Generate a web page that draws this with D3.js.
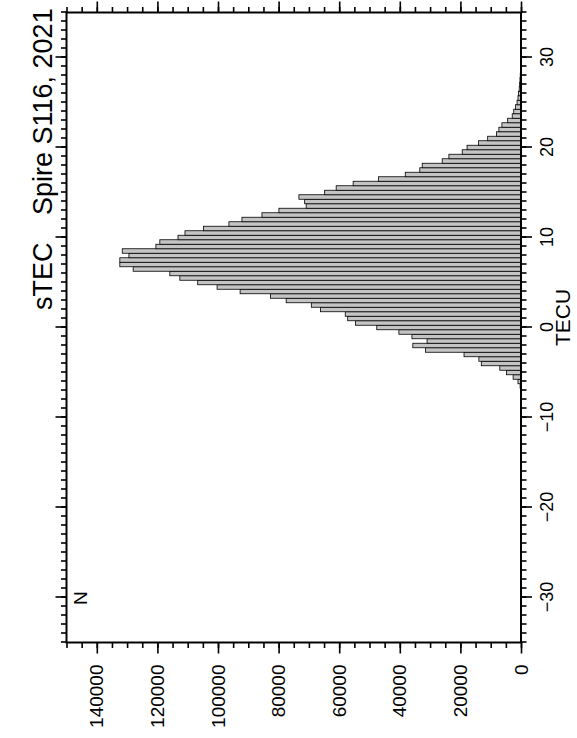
<!DOCTYPE html>
<html>
<head>
<meta charset="utf-8">
<script src="https://cdn.jsdelivr.net/npm/d3@7"></script>
<style>
body { margin: 0; background: #fff; }
text { font-family: "Liberation Sans", Arial, Helvetica, sans-serif; fill: #000; }
</style>
</head>
<body>
<div id="chart"></div>
<script>
// histogram of sTEC, 0.5 TECU bins (bin centres)
var binCenters = [-7, -6.5, -6, -5.5, -5, -4.5, -4, -3.5, -3, -2.5, -2, -1.5, -1, -0.5,
  0, 0.5, 1, 1.5, 2, 2.5, 3, 3.5, 4, 4.5, 5, 5.5, 6, 6.5, 7, 7.5, 8, 8.5, 9, 9.5,
  10, 10.5, 11, 11.5, 12, 12.5, 13, 13.5, 14, 14.5, 15, 15.5, 16, 16.5, 17, 17.5,
  18, 18.5, 19, 19.5, 20, 20.5, 21, 21.5, 22, 22.5, 23, 23.5, 24, 24.5, 25, 25.5,
  26, 26.5, 27, 27.5, 28, 28.5, 29, 29.5];
var binCounts = [100, 300, 1000, 2600, 4800, 7000, 13100, 13900, 18800, 31500, 35700, 31000, 36000, 40300,
  47600, 54600, 57200, 58000, 66200, 69200, 77500, 82700, 92700, 100300, 106700, 112600, 115900, 128000,
  132400, 132400, 129400, 131600, 120500, 119200,
  113200, 110900, 104800, 96400, 92100, 85500, 79900, 70900, 71400, 73300, 64800, 61000, 55400, 47000, 38200, 33400,
  32600, 26000, 23800, 19400, 17800, 14000, 11000, 8100, 7300, 6300, 4400, 2900, 2400, 1800, 1300, 1000,
  800, 600, 450, 350, 250, 150, 100, 50];

var tecuTicks = [-30, -20, -10, 0, 10, 20, 30];
var countTicks = [0, 20000, 40000, 60000, 80000, 100000, 120000, 140000];

var titleLeft = "sTEC";
var titleRight = "Spire S116, 2021";
var xLabel = "TECU";
var yLabel = "N";

// the plot is drawn in landscape and turned 90 degrees
var W = 630, H = 454.5;
var svg = d3.select("#chart")
  .append("svg")
    .attr("width", 577)
    .attr("height", 738);

var g = svg.append("g")
  .attr("transform", "translate(66.5,642.5) rotate(-90)");

var x = d3.scaleLinear().domain([-35, 35]).range([0, W]);
var y = d3.scaleLinear().domain([0, 150000]).range([H, 0]);

g.selectAll(".myBars")
  .data(binCounts)
  .enter()
  .append("rect")
    .attr("x", function(d, i){ return x(binCenters[i] - 0.25) })
    .attr("width", x(0.5) - x(0))
    .attr("y", function(d){ return y(d) })
    .attr("height", function(d){ return H - y(d) })
    .attr("fill", "#c4c4c4")
    .attr("stroke", "#000")
    .attr("stroke-width", 0.8);

function tickAxis(sel, axis, fs) {
  sel.call(axis);
  sel.select(".domain").remove();
  sel.selectAll("line").attr("stroke-width", 1.6);
  sel.selectAll("text").style("font-size", (fs || 19) + "px").style("font-family", '"Liberation Sans", Arial, sans-serif');
}

var minorX = x.ticks(70);
var minorY = d3.range(0, 150001, 5000);

// TECU axis (right side once rotated)
g.append("g").attr("transform", "translate(0," + H + ")")
  .call(tickAxis, d3.axisBottom(x).tickValues(minorX).tickSize(5.5).tickFormat(""));
g.append("g").attr("transform", "translate(0," + H + ")")
  .call(tickAxis, d3.axisBottom(x).tickValues(tecuTicks).tickSize(11).tickPadding(8), 18);
g.append("g")
  .call(tickAxis, d3.axisTop(x).tickValues(minorX).tickSize(5.5).tickFormat(""));
g.append("g")
  .call(tickAxis, d3.axisTop(x).tickValues(tecuTicks).tickSize(11).tickFormat(""));

// count axis (bottom once rotated)
g.append("g")
  .call(tickAxis, d3.axisLeft(y).tickValues(minorY).tickSize(5.5).tickFormat(""));
g.append("g")
  .call(tickAxis, d3.axisLeft(y).tickValues(countTicks).tickSize(11).tickPadding(11).tickFormat(d3.format("d")));
g.append("g").attr("transform", "translate(" + W + ",0)")
  .call(tickAxis, d3.axisRight(y).tickValues(minorY).tickSize(5.5).tickFormat(""));
g.append("g").attr("transform", "translate(" + W + ",0)")
  .call(tickAxis, d3.axisRight(y).tickValues(countTicks).tickSize(11).tickFormat(""));

// frame
g.append("rect")
  .attr("width", W)
  .attr("height", H)
  .attr("fill", "none")
  .attr("stroke", "#000")
  .attr("stroke-width", 2);

g.append("text")
  .attr("x", W / 2 + 10)
  .attr("y", H + 49)
  .attr("text-anchor", "middle")
  .style("font-size", "21px")
  .text(xLabel);

g.append("text")
  .attr("x", 37.5)
  .attr("y", 20.5)
  .style("font-size", "19px")
  .text(yLabel);

g.append("text")
  .attr("x", 332.5)
  .attr("y", -14.5)
  .style("font-size", "27px")
  .text(titleLeft);
g.append("text")
  .attr("x", 427.5)
  .attr("y", -14.5)
  .style("font-size", "27px")
  .text(titleRight);
</script>
</body>
</html>
